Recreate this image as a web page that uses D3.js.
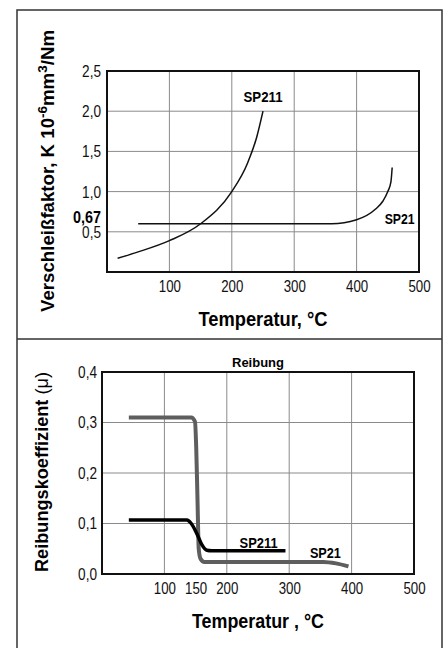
<!DOCTYPE html>
<html>
<head>
<meta charset="utf-8">
<script src="https://cdn.jsdelivr.net/npm/d3@7"></script>
<style>
  body { margin: 0; background: #fff; }
  svg { display: block; font-family: "Liberation Sans", Arial, sans-serif; }
  .tick text { font-size: 17px; fill: #111; }
  .bold { font-weight: bold; }
</style>
</head>
<body>
<div id="chart"></div>
<script>
// ---- Data -----------------------------------------------------------------
// upper panel: wear factor vs temperature
const wearXTicks = [100, 200, 300, 400, 500];
const wearYTicks = [0.5, 1.0, 1.5, 2.0, 2.5];
const wearSP211 = [[17, 0.17], [50, 0.25], [100, 0.39], [150, 0.6], [200, 1.0], [225, 1.35], [240, 1.68], [250, 2.0]];
const wearSP21 = [[50, 0.6], [360, 0.6], [400, 0.65], [430, 0.78], [442, 0.88], [450, 1.0], [455, 1.12], [457, 1.3]];

// lower panel: friction coefficient vs temperature
const fricXTicks = [100, 150, 200, 300, 400, 500];
const fricXGrid = [100, 200, 300, 400];
const fricYTicks = [0.0, 0.1, 0.2, 0.3, 0.4];
const fricSP21 = [[43, 0.31], [143, 0.31], [149, 0.302], [151, 0.25], [153, 0.15], [155, 0.05], [158, 0.03], [164, 0.024], [355, 0.024], [375, 0.021], [395, 0.015]];
const fricSP211 = [[43, 0.107], [136, 0.107], [143, 0.1], [152, 0.08], [160, 0.058], [168, 0.047], [176, 0.046], [294, 0.046]];

const W = 443, H = 648;
const comma = f => v => d3.format(f)(v).replace(".", ",");

// squeeze text horizontally to get a narrow face
function condense(sel, ratio) {
  sel.each(function() {
    const len = this.getComputedTextLength();
    d3.select(this).attr("textLength", len * ratio).attr("lengthAdjust", "spacingAndGlyphs");
  });
}
function fitTo(sel, len) {
  sel.attr("textLength", len).attr("lengthAdjust", "spacingAndGlyphs");
}

const svg = d3.select("#chart").append("svg")
  .attr("width", W)
  .attr("height", H);

// outer frame + divider
svg.append("path")
  .attr("d", `M17,${H + 5}V10H442V${H + 5}M17,339H442`)
  .attr("fill", "none")
  .attr("stroke", "#333")
  .attr("stroke-width", 1.5);

// ---- Upper panel ----------------------------------------------------------
const x1 = d3.scaleLinear().domain([0, 500]).range([107, 419]);
const y1 = d3.scaleLinear().domain([0, 2.5]).range([272, 71]);

const g1 = svg.append("g");

g1.selectAll(".vgrid").data(wearXTicks.slice(0, -1)).enter().append("line")
  .attr("x1", d => x1(d)).attr("x2", d => x1(d))
  .attr("y1", y1(0)).attr("y2", y1(2.5))
  .attr("stroke", "#8a8a8a").attr("stroke-width", 1);
g1.selectAll(".hgrid").data(wearYTicks.slice(0, -1)).enter().append("line")
  .attr("y1", d => y1(d)).attr("y2", d => y1(d))
  .attr("x1", x1(0)).attr("x2", x1(500))
  .attr("stroke", "#8a8a8a").attr("stroke-width", 1);

g1.append("g")
  .attr("transform", `translate(${x1(0)},0)`)
  .call(d3.axisLeft(y1).tickValues(wearYTicks).tickFormat(comma(".1f")).tickSize(0).tickPadding(6))
  .call(a => a.select(".domain").remove())
  .call(a => a.selectAll("text").call(condense, 0.8));

// extra bold 0,67 label
g1.append("text")
  .attr("class", "bold")
  .attr("x", x1(0) - 6)
  .attr("y", y1(0.67))
  .attr("dy", "0.3em")
  .attr("text-anchor", "end")
  .attr("font-size", 16)
  .text("0,67")
  .call(fitTo, 28);

g1.append("g")
  .attr("transform", `translate(0,${y1(0)})`)
  .call(d3.axisBottom(x1).tickValues(wearXTicks).tickFormat(d3.format("d")).tickSize(0).tickPadding(8))
  .call(a => a.select(".domain").remove())
  .call(a => a.selectAll("text").call(condense, 0.78));

g1.append("rect")
  .attr("x", x1(0)).attr("y", y1(2.5))
  .attr("width", x1(500) - x1(0)).attr("height", y1(0) - y1(2.5))
  .attr("fill", "none").attr("stroke", "#111").attr("stroke-width", 2);

const line1 = d3.line().x(d => x1(d[0])).y(d => y1(d[1])).curve(d3.curveMonotoneX);
[wearSP211, wearSP21].forEach(s => {
  g1.append("path").attr("d", line1(s))
    .attr("fill", "none").attr("stroke", "#111").attr("stroke-width", 1.5);
});

g1.append("text").attr("class", "bold").attr("font-size", 14)
  .attr("x", x1(250)).attr("y", y1(2.12)).attr("text-anchor", "middle").text("SP211").call(fitTo, 39);
g1.append("text").attr("class", "bold").attr("font-size", 14)
  .attr("x", x1(469)).attr("y", y1(0.6)).attr("text-anchor", "middle").text("SP21").call(fitTo, 30);

const yt1 = g1.append("text")
  .attr("class", "bold")
  .attr("font-size", 18)
  .attr("text-anchor", "middle")
  .attr("transform", "translate(54,171) rotate(-90)");
yt1.append("tspan").text("Verschleißfaktor, K 10");
yt1.append("tspan").attr("dy", -7).attr("font-size", 13).text("-6");
yt1.append("tspan").attr("dy", 7).text("mm");
yt1.append("tspan").attr("dy", -7).attr("font-size", 13).text("3");
yt1.append("tspan").attr("dy", 7).text("/Nm");
yt1.call(fitTo, 282);

g1.append("text").attr("class", "bold").attr("font-size", 20)
  .attr("x", 263).attr("y", 326).attr("text-anchor", "middle").text("Temperatur, °C").call(fitTo, 129);

// ---- Lower panel ----------------------------------------------------------
const x2 = d3.scaleLinear().domain([0, 500]).range([102, 414]);
const y2 = d3.scaleLinear().domain([0, 0.4]).range([574, 372]);

const g2 = svg.append("g");

g2.selectAll(".vgrid").data(fricXGrid).enter().append("line")
  .attr("x1", d => x2(d)).attr("x2", d => x2(d))
  .attr("y1", y2(0)).attr("y2", y2(0.4))
  .attr("stroke", "#8a8a8a").attr("stroke-width", 1);
g2.selectAll(".hgrid").data(fricYTicks.slice(1, -1)).enter().append("line")
  .attr("y1", d => y2(d)).attr("y2", d => y2(d))
  .attr("x1", x2(0)).attr("x2", x2(500))
  .attr("stroke", "#8a8a8a").attr("stroke-width", 1);

g2.append("g")
  .attr("transform", `translate(${x2(0)},0)`)
  .call(d3.axisLeft(y2).tickValues(fricYTicks).tickFormat(comma(".1f")).tickSize(0).tickPadding(5))
  .call(a => a.select(".domain").remove())
  .call(a => a.selectAll("text").call(condense, 0.8));

g2.append("g")
  .attr("transform", `translate(0,${y2(0)})`)
  .call(d3.axisBottom(x2).tickValues(fricXTicks).tickFormat(d3.format("d")).tickSize(0).tickPadding(8))
  .call(a => a.select(".domain").remove())
  .call(a => a.selectAll("text").call(condense, 0.78));

g2.append("rect")
  .attr("x", x2(0)).attr("y", y2(0.4))
  .attr("width", x2(500) - x2(0)).attr("height", y2(0) - y2(0.4))
  .attr("fill", "none").attr("stroke", "#111").attr("stroke-width", 2);

const line2 = d3.line().x(d => x2(d[0])).y(d => y2(d[1])).curve(d3.curveMonotoneX);
g2.append("path").attr("d", line2(fricSP21))
  .attr("fill", "none").attr("stroke", "#5e5e5e").attr("stroke-width", 4).attr("stroke-linejoin", "round");
g2.append("path").attr("d", line2(fricSP211))
  .attr("fill", "none").attr("stroke", "#000").attr("stroke-width", 3.5).attr("stroke-linejoin", "round");

g2.append("text").attr("class", "bold").attr("font-size", 14)
  .attr("x", x2(251)).attr("y", y2(0.051)).attr("text-anchor", "middle").text("SP211").call(fitTo, 38);
g2.append("text").attr("class", "bold").attr("font-size", 14)
  .attr("x", x2(358)).attr("y", y2(0.031)).attr("text-anchor", "middle").text("SP21").call(fitTo, 31);
g2.append("text").attr("class", "bold").attr("font-size", 13)
  .attr("x", 258).attr("y", 367).attr("text-anchor", "middle").text("Reibung").call(fitTo, 52);

const yt2 = g2.append("text")
  .attr("font-size", 18)
  .attr("text-anchor", "middle")
  .attr("transform", "translate(48,472) rotate(-90)");
yt2.append("tspan").attr("class", "bold").text("Reibungskoeffizient ");
yt2.append("tspan").text("(μ)");
yt2.call(fitTo, 200);

g2.append("text").attr("class", "bold").attr("font-size", 20)
  .attr("x", 258).attr("y", 628).attr("text-anchor", "middle").text("Temperatur , °C").call(fitTo, 132);
</script>
</body>
</html>
